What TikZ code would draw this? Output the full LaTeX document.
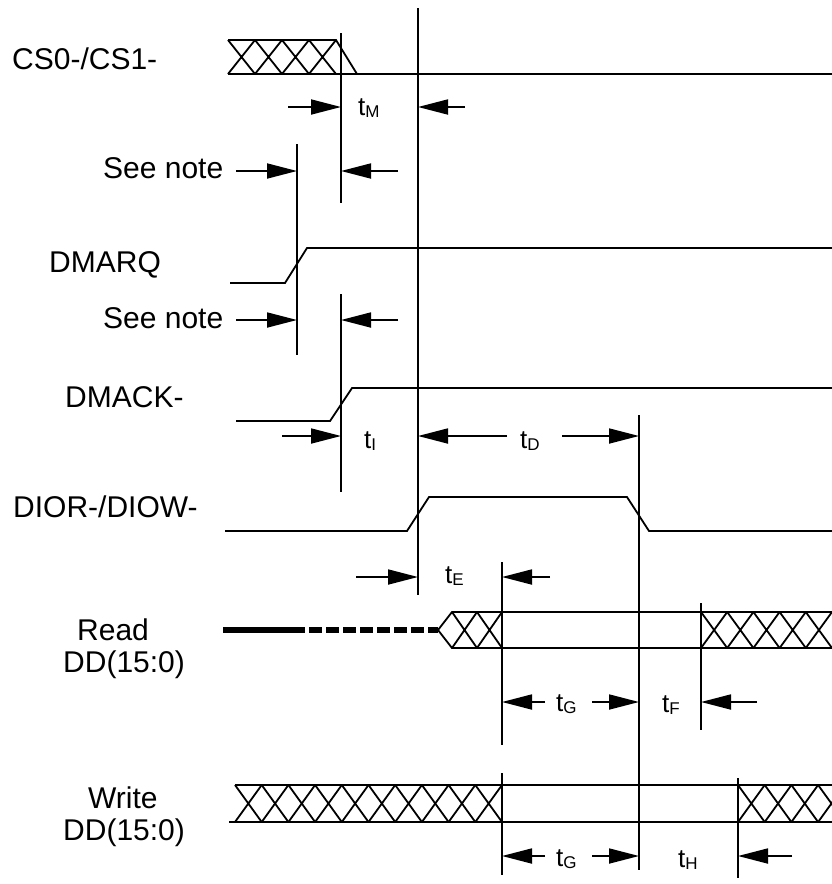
\documentclass[tikz,border=0pt]{standalone}
\usepackage{fontspec}
\setmainfont{Liberation Sans}
\usetikzlibrary{arrows.meta}

\tikzset{
    wave/.style={line width=1.8pt},
    guide/.style={line width=1.8pt},
    dimarrow/.style={line width=1.8pt,-{Triangle[length=30pt,width=15pt]}},
    lbl/.style={inner sep=0pt,anchor=base west,font=\fontsize{30}{34}\selectfont},
    tlbl/.style={inner sep=0pt,anchor=base west,font=\fontsize{26}{30}\selectfont}
}
\newcommand{\tsub}[1]{t\raisebox{-2pt}{\fontsize{17}{17}\selectfont #1}}
\newcommand{\hatchbus}[5]{%
    \foreach \k in {1,...,#3}
        \draw[wave] ({#1+(\k-1)*#2},#4) -- ({#1+\k*#2},#5)
                    ({#1+(\k-1)*#2},#5) -- ({#1+\k*#2},#4);}

\begin{document}
\begin{tikzpicture}[x=1pt,y=-1pt]
                  \useasboundingbox (0,0) rectangle (832,884);
                  % signal names
                  \node[lbl] (cslbl) at (12,69) {CS0-/CS1-};
                  \node[lbl] (note1) at (103,178) {See note};
                  \node[lbl] (dmarq) at (49,272) {DMARQ};
                  \node[lbl] (note2) at (103,328) {See note};
                  \node[lbl] (dmack) at (65,407) {DMACK-};
                  \node[lbl] (dior) at (13,517) {DIOR-/DIOW-};
                  \node[lbl] (readlbl) at (77,640) {Read};
                  \node[lbl] (readdd) at (63,672) {DD(15:0)};
                  \node[lbl] (writelbl) at (88,808) {Write};
                  \node[lbl] (writedd) at (63,840) {DD(15:0)};
                  % waveforms
                  \draw[wave] (228,40) -- (336,40) -- (357,74);
                  \draw[wave] (228,74) -- (832,74);
                  \hatchbus{228}{27}{4}{40}{74}
                  \draw[wave] (230,283) -- (285,283) -- (307,248) -- (832,248);
                  \draw[wave] (236,421) -- (330,421) -- (352,388) -- (832,388);
                  \draw[wave] (225,531) -- (407,531) -- (429,497) -- (627,497) -- (649,531) -- (832,531);
                  \draw[line width=6pt] (223,630) -- (292,630);
                  \draw[line width=6pt,dash pattern=on 13pt off 4pt] (292,630) -- (438,630);
                  \draw[wave] (438,630) -- (452,612) -- (832,612);
                  \draw[wave] (438,630) -- (452,648) -- (832,648);
                  \hatchbus{452}{25}{2}{612}{648}
                  \hatchbus{701}{26.2}{5}{612}{648}
                  \draw[wave] (235,785) -- (832,785);
                  \draw[wave] (229,822) -- (832,822);
                  \hatchbus{235}{26.7}{10}{785}{822}
                  \begin{scope}
                      \clip (738,700) rectangle (832,884);
                      \hatchbus{738}{26.7}{4}{785}{822}
                  \end{scope}
                  % timing references
                  \draw[guide] (297,144) -- (297,355);
                  \draw[guide] (341,33) -- (341,203);
                  \draw[guide] (341,294) -- (341,492);
                  \draw[guide] (418,8) -- (418,595);
                  \draw[guide] (502,562) -- (502,745);
                  \draw[guide] (502,773) -- (502,875);
                  \draw[guide] (639,415) -- (639,870);
                  \draw[guide] (701,603) -- (701,730);
                  \draw[guide] (738,778) -- (738,878);
                  % intervals
                  \draw[dimarrow] (288,107) -- (341,107);
                  \draw[dimarrow] (465,107) -- (418,107);
                  \node[tlbl] (tm) at (358,115) {\tsub{M}};
                  \draw[dimarrow] (236,171) -- (297,171);
                  \draw[dimarrow] (398,171) -- (341,171);
                  \draw[dimarrow] (236,320) -- (297,320);
                  \draw[dimarrow] (398,320) -- (341,320);
                  \draw[dimarrow] (282,436) -- (341,436);
                  \node[tlbl] (ti) at (364,448) {\tsub{I}};
                  \draw[dimarrow] (507,436) -- (418,436);
                  \draw[dimarrow] (562,436) -- (639,436);
                  \node[tlbl] (td) at (520,448) {\tsub{D}};
                  \draw[dimarrow] (356,577) -- (418,577);
                  \draw[dimarrow] (550,577) -- (502,577);
                  \node[tlbl] (te) at (445,583) {\tsub{E}};
                  \draw[dimarrow] (545,702) -- (502,702);
                  \draw[dimarrow] (592,702) -- (639,702);
                  \node[tlbl] (tg1) at (556,711) {\tsub{G}};
                  \draw[dimarrow] (757,702) -- (701,702);
                  \node[tlbl] (tf) at (662,712) {\tsub{F}};
                  \draw[dimarrow] (545,856) -- (502,856);
                  \draw[dimarrow] (592,856) -- (639,856);
                  \node[tlbl] (tg2) at (556,866) {\tsub{G}};
                  \draw[dimarrow] (792,856) -- (738,856);
                  \node[tlbl] (th) at (678,867) {\tsub{H}};
              \end{tikzpicture}
\end{document}
